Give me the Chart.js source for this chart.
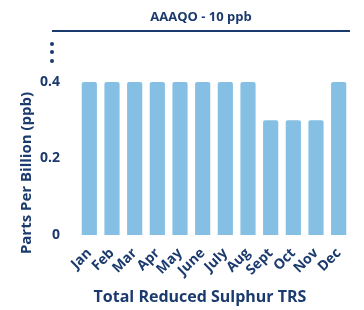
<!DOCTYPE html>
<html>
<head>
<meta charset="utf-8">
<script src="https://cdn.jsdelivr.net/npm/chart.js@4"></script>
<style>
  html, body { margin: 0; padding: 0; background: #fff; }
  #wrap { width: 364px; height: 310px; }
</style>
</head>
<body>
<div id="wrap"><canvas id="trs-graph" width="364" height="310"></canvas></div>
<script>
const months = ["Jan", "Feb", "Mar", "Apr", "May", "June", "July", "Aug", "Sept", "Oct", "Nov", "Dec"];
const trsValues = [0.4, 0.4, 0.4, 0.4, 0.4, 0.4, 0.4, 0.4, 0.3, 0.3, 0.3, 0.4];
const yTicks = [0, 0.2, 0.4];

const chartTitle = "AAAQO - 10 ppb";
const yTitle = "Parts Per Billion (ppb)";
const xTitle = "Total Reduced Sulphur TRS";

const navy = "#1b3a6d";
const barBlue = "#85c0e4";
const font = "'Open Sans', sans-serif";

// title, rule, break dots and axis titles
const decorations = {
  id: "decorations",
  afterDraw(chart) {
    const c = chart.ctx;
    c.save();
    c.fillStyle = navy;
    c.strokeStyle = navy;
    c.textAlign = "center";
    c.textBaseline = "middle";
    c.font = "bold 13px " + font;
    c.fillText(chartTitle, 201, 17);

    c.lineWidth = 2;
    c.beginPath();
    c.moveTo(52, 31);
    c.lineTo(350, 31);
    c.stroke();

    [44, 52, 61].forEach((y) => {
      c.beginPath();
      c.arc(52, y, 2, 0, Math.PI * 2);
      c.fill();
    });

    c.font = "bold 16px " + font;
    c.fillText(xTitle, 200, 297);

    c.translate(27, 173);
    c.rotate(-Math.PI / 2);
    c.font = "bold 15px " + font;
    c.fillText(yTitle, 0, 0);
    c.restore();
  },
};

new Chart(document.getElementById("trs-graph"), {
  type: "bar",
  data: {
    labels: months,
    datasets: [
      {
        label: xTitle,
        data: trsValues,
        backgroundColor: barBlue,
        borderRadius: 2,
        borderSkipped: "bottom",
        barPercentage: 0.67,
        categoryPercentage: 1,
      },
    ],
  },
  options: {
    responsive: false,
    animation: false,
    layout: { padding: { top: 82, left: 30, right: 14, bottom: 29 } },
    plugins: { legend: { display: false }, tooltip: { enabled: false } },
    scales: {
      x: {
        grid: { display: false },
        border: { display: false },
        ticks: {
          color: navy,
          font: { family: font, size: 14, weight: "bold" },
          minRotation: 45,
          maxRotation: 45,
          autoSkip: false,
          padding: 2,
        },
      },
      y: {
        min: 0,
        max: 0.4,
        grid: { display: false },
        border: { display: false },
        afterBuildTicks: (axis) => {
          axis.ticks = yTicks.map((v) => ({ value: v }));
        },
        ticks: {
          color: navy,
          font: { family: font, size: 14, weight: "bold" },
          padding: 10,
          callback: (v) => String(v),
        },
      },
    },
  },
  plugins: [decorations],
});
</script>
</body>
</html>
